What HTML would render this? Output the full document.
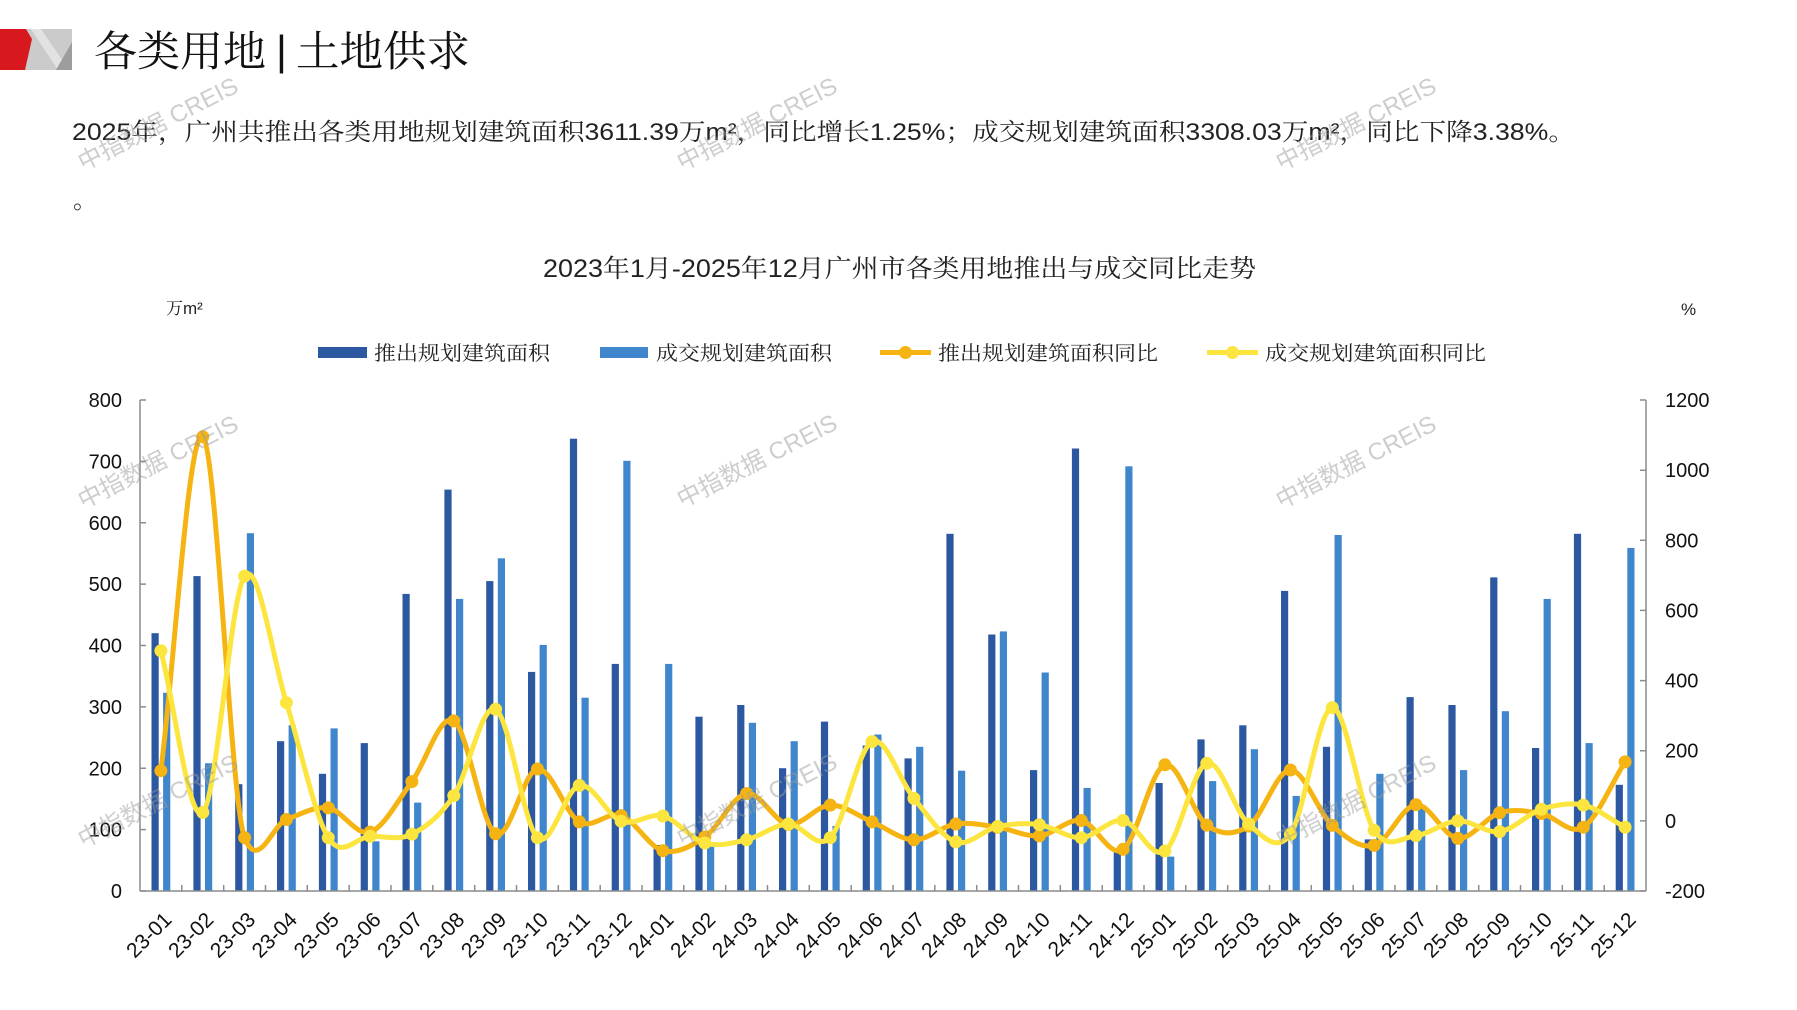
<!DOCTYPE html>
<html>
<head>
<meta charset="utf-8">
<style>
html,body{margin:0;padding:0;background:#fff;}
svg{display:block;}
.cjk{font-family:"Noto Serif CJK SC","Liberation Serif",serif;}
.cjk2{font-family:"Liberation Sans","Noto Serif CJK SC",serif;}
.num{font-family:"Liberation Sans",sans-serif;}
</style>
</head>
<body>
<svg width="1797" height="1010" viewBox="0 0 1797 1010" xmlns="http://www.w3.org/2000/svg">
<rect width="1797" height="1010" fill="#fff"/>

<!-- logo -->
<rect x="25" y="29" width="47" height="41" fill="#cbcbcb"/>
<polygon points="31,29 41,29 69,70 58,70" fill="#e2e2e2"/>
<polygon points="72,42 72,70 56,70" fill="#9d9d9d"/>
<polygon points="0,29 26,29 32,39 25,70 0,70" fill="#d7191f"/>

<!-- main title -->
<text x="94" y="66" font-size="42" class="cjk" fill="#111" textLength="172" lengthAdjust="spacingAndGlyphs">各类用地</text>
<text x="281.5" y="65" font-size="42" text-anchor="middle" class="num" fill="#111">|</text>
<text x="296" y="66" font-size="42" class="cjk" fill="#111" textLength="174" lengthAdjust="spacingAndGlyphs">土地供求</text>

<!-- paragraph -->
<text x="72" y="140" font-size="24" fill="#222" textLength="1503" lengthAdjust="spacingAndGlyphs" style="font-family:'Liberation Sans Narrow','Liberation Sans','Noto Serif CJK SC',serif;">2025年，广州共推出各类用地规划建筑面积3611.39万m²，同比增长1.25%；成交规划建筑面积3308.03万m²，同比下降3.38%。</text>
<text x="73" y="208" font-size="24" class="cjk" fill="#222">。</text>

<!-- chart title -->
<text x="543" y="277" font-size="25" fill="#222" textLength="713" lengthAdjust="spacingAndGlyphs" style="font-family:'Liberation Sans Narrow','Liberation Sans','Noto Serif CJK SC',serif;">2023年1月-2025年12月广州市各类用地推出与成交同比走势</text>

<!-- units -->
<text x="166" y="314" font-size="17" class="cjk2" fill="#222">万m²</text>
<text x="1681" y="315" font-size="17" class="num" fill="#222">%</text>

<!-- legend -->
<rect x="318" y="347" width="49" height="11" fill="#2c58a2"/>
<text x="374" y="360" font-size="20" class="cjk" fill="#222" textLength="176" lengthAdjust="spacingAndGlyphs">推出规划建筑面积</text>
<rect x="600" y="347" width="48" height="11" fill="#3f86cd"/>
<text x="656" y="360" font-size="20" class="cjk" fill="#222" textLength="176" lengthAdjust="spacingAndGlyphs">成交规划建筑面积</text>
<line x1="880" y1="352.5" x2="931" y2="352.5" stroke="#f6b412" stroke-width="5"/>
<circle cx="905.5" cy="352.5" r="6.5" fill="#f6b412"/>
<text x="938" y="360" font-size="20" class="cjk" fill="#222" textLength="220" lengthAdjust="spacingAndGlyphs">推出规划建筑面积同比</text>
<line x1="1207" y1="352.5" x2="1258" y2="352.5" stroke="#fde53f" stroke-width="5"/>
<circle cx="1232.5" cy="352.5" r="6.5" fill="#fde53f"/>
<text x="1265" y="360" font-size="20" class="cjk" fill="#222" textLength="221" lengthAdjust="spacingAndGlyphs">成交规划建筑面积同比</text>

<!-- bars dark -->
<g fill="#2c58a2">
<rect x="151.5" y="633.2" width="7.2" height="257.8"/>
<rect x="193.4" y="576.1" width="7.2" height="314.9"/>
<rect x="235.2" y="784.2" width="7.2" height="106.8"/>
<rect x="277.0" y="741.2" width="7.2" height="149.8"/>
<rect x="318.9" y="773.8" width="7.2" height="117.2"/>
<rect x="360.7" y="743.1" width="7.2" height="147.9"/>
<rect x="402.5" y="593.9" width="7.2" height="297.1"/>
<rect x="444.4" y="489.6" width="7.2" height="401.4"/>
<rect x="486.2" y="581.1" width="7.2" height="309.9"/>
<rect x="528.0" y="671.9" width="7.2" height="219.1"/>
<rect x="569.9" y="438.7" width="7.2" height="452.3"/>
<rect x="611.7" y="663.9" width="7.2" height="227.1"/>
<rect x="653.5" y="845.0" width="7.2" height="46.0"/>
<rect x="695.4" y="716.7" width="7.2" height="174.3"/>
<rect x="737.2" y="705.0" width="7.2" height="186.0"/>
<rect x="779.0" y="768.2" width="7.2" height="122.8"/>
<rect x="820.9" y="721.6" width="7.2" height="169.4"/>
<rect x="862.7" y="745.5" width="7.2" height="145.5"/>
<rect x="904.5" y="758.4" width="7.2" height="132.6"/>
<rect x="946.4" y="533.8" width="7.2" height="357.2"/>
<rect x="988.2" y="634.5" width="7.2" height="256.5"/>
<rect x="1030.0" y="770.1" width="7.2" height="120.9"/>
<rect x="1071.9" y="448.5" width="7.2" height="442.5"/>
<rect x="1113.7" y="851.1" width="7.2" height="39.9"/>
<rect x="1155.5" y="783.0" width="7.2" height="108.0"/>
<rect x="1197.4" y="739.4" width="7.2" height="151.6"/>
<rect x="1239.2" y="725.3" width="7.2" height="165.7"/>
<rect x="1281.0" y="590.9" width="7.2" height="300.1"/>
<rect x="1322.9" y="746.8" width="7.2" height="144.2"/>
<rect x="1364.7" y="839.4" width="7.2" height="51.6"/>
<rect x="1406.5" y="697.1" width="7.2" height="193.9"/>
<rect x="1448.4" y="705.0" width="7.2" height="186.0"/>
<rect x="1490.2" y="577.4" width="7.2" height="313.6"/>
<rect x="1532.0" y="748.0" width="7.2" height="143.0"/>
<rect x="1573.9" y="533.8" width="7.2" height="357.2"/>
<rect x="1615.7" y="784.8" width="7.2" height="106.2"/>
</g>
<!-- bars light -->
<g fill="#3f86cd">
<rect x="163.1" y="692.8" width="7.2" height="198.2"/>
<rect x="205.0" y="763.3" width="7.2" height="127.7"/>
<rect x="246.8" y="533.2" width="7.2" height="357.8"/>
<rect x="288.6" y="725.3" width="7.2" height="165.7"/>
<rect x="330.5" y="728.4" width="7.2" height="162.6"/>
<rect x="372.3" y="841.3" width="7.2" height="49.7"/>
<rect x="414.1" y="802.6" width="7.2" height="88.4"/>
<rect x="456.0" y="598.9" width="7.2" height="292.1"/>
<rect x="497.8" y="558.3" width="7.2" height="332.7"/>
<rect x="539.6" y="644.9" width="7.2" height="246.1"/>
<rect x="581.5" y="697.7" width="7.2" height="193.3"/>
<rect x="623.3" y="460.8" width="7.2" height="430.2"/>
<rect x="665.1" y="663.9" width="7.2" height="227.1"/>
<rect x="707.0" y="845.0" width="7.2" height="46.0"/>
<rect x="748.8" y="722.8" width="7.2" height="168.2"/>
<rect x="790.6" y="741.2" width="7.2" height="149.8"/>
<rect x="832.5" y="825.9" width="7.2" height="65.1"/>
<rect x="874.3" y="734.5" width="7.2" height="156.5"/>
<rect x="916.1" y="746.8" width="7.2" height="144.2"/>
<rect x="958.0" y="770.7" width="7.2" height="120.3"/>
<rect x="999.8" y="631.4" width="7.2" height="259.6"/>
<rect x="1041.6" y="672.5" width="7.2" height="218.5"/>
<rect x="1083.5" y="787.9" width="7.2" height="103.1"/>
<rect x="1125.3" y="466.3" width="7.2" height="424.7"/>
<rect x="1167.1" y="856.6" width="7.2" height="34.4"/>
<rect x="1209.0" y="781.1" width="7.2" height="109.9"/>
<rect x="1250.8" y="749.2" width="7.2" height="141.8"/>
<rect x="1292.6" y="795.9" width="7.2" height="95.1"/>
<rect x="1334.5" y="535.0" width="7.2" height="356.0"/>
<rect x="1376.3" y="773.8" width="7.2" height="117.2"/>
<rect x="1418.1" y="805.1" width="7.2" height="85.9"/>
<rect x="1460.0" y="770.1" width="7.2" height="120.9"/>
<rect x="1501.8" y="711.2" width="7.2" height="179.8"/>
<rect x="1543.6" y="598.9" width="7.2" height="292.1"/>
<rect x="1585.5" y="743.1" width="7.2" height="147.9"/>
<rect x="1627.3" y="547.9" width="7.2" height="343.1"/>
</g>

<!-- axes -->
<g stroke="#8c8c8c" stroke-width="1.5" fill="none">
<line x1="140" y1="400" x2="140" y2="891"/>
<line x1="1646" y1="400" x2="1646" y2="891"/>
<line x1="140" y1="891" x2="1646" y2="891"/>
<path d="M140 400h6M140 461.4h6M140 522.8h6M140 584.1h6M140 645.5h6M140 706.9h6M140 768.3h6M140 829.6h6M140 891h6"/>
<path d="M1646 400h-6M1646 470.2h-6M1646 540.3h-6M1646 610.4h-6M1646 680.6h-6M1646 750.7h-6M1646 820.9h-6M1646 891h-6"/>
<path d="M181.8 891v-6M223.7 891v-6M265.5 891v-6M307.3 891v-6M349.2 891v-6M391.0 891v-6M432.8 891v-6M474.7 891v-6M516.5 891v-6M558.3 891v-6M600.2 891v-6M642.0 891v-6M683.8 891v-6M725.7 891v-6M767.5 891v-6M809.3 891v-6M851.2 891v-6M893.0 891v-6M934.8 891v-6M976.7 891v-6M1018.5 891v-6M1060.3 891v-6M1102.2 891v-6M1144.0 891v-6M1185.8 891v-6M1227.7 891v-6M1269.5 891v-6M1311.3 891v-6M1353.2 891v-6M1395.0 891v-6M1436.8 891v-6M1478.7 891v-6M1520.5 891v-6M1562.3 891v-6M1604.2 891v-6"/>
</g>

<!-- left tick labels -->
<g class="num" font-size="20" fill="#111" text-anchor="end">
<text x="122" y="407">800</text>
<text x="122" y="468.4">700</text>
<text x="122" y="529.8">600</text>
<text x="122" y="591.1">500</text>
<text x="122" y="652.5">400</text>
<text x="122" y="713.9">300</text>
<text x="122" y="775.3">200</text>
<text x="122" y="836.6">100</text>
<text x="122" y="898">0</text>
</g>
<!-- right tick labels -->
<g class="num" font-size="20" fill="#111">
<text x="1665" y="407">1200</text>
<text x="1665" y="477.2">1000</text>
<text x="1665" y="547.3">800</text>
<text x="1665" y="617.4">600</text>
<text x="1665" y="687.6">400</text>
<text x="1665" y="757.7">200</text>
<text x="1665" y="827.9">0</text>
<text x="1665" y="898">-200</text>
</g>

<!-- orange line -->
<path fill="none" stroke="#f6b412" stroke-width="5" stroke-linejoin="round" stroke-linecap="round" d="M160.9,770.7 C174.8,659.4 188.9,425.6 202.8,436.8 S230.7,802.7 244.6,837.7 S272.5,824.5 286.4,819.5 S314.4,805.8 328.3,807.9 S356.2,836.5 370.1,832.1 S398.0,800.1 411.9,781.6 S439.9,712.2 453.8,720.9 S481.7,825.8 495.6,833.8 S523.5,771.0 537.4,769.0 S565.4,814.1 579.3,821.9 S607.2,810.8 621.1,815.6 S649.0,847.1 662.9,850.7 S690.9,846.5 704.8,837.0 S732.7,795.6 746.6,793.5 S774.5,822.5 788.4,824.4 S816.4,805.5 830.3,805.1 S858.2,816.1 872.1,821.9 S900.0,839.5 913.9,839.8 S941.9,826.1 955.8,824.0 S983.7,825.2 997.6,827.2 S1025.5,837.0 1039.4,835.9 S1067.4,818.3 1081.3,820.5 S1109.2,858.6 1123.1,849.3 S1151.0,768.8 1164.9,764.8 S1192.9,814.9 1206.8,825.1 S1234.7,835.3 1248.6,826.1 S1276.5,770.1 1290.4,770.0 S1318.4,812.8 1332.3,825.4 S1360.2,848.9 1374.1,845.4 S1402.0,805.9 1415.9,804.7 S1443.9,837.1 1457.8,838.4 S1485.7,817.0 1499.6,812.8 S1527.5,811.1 1541.4,813.5 S1569.4,835.8 1583.3,827.2 S1611.2,783.7 1625.1,761.9"/>
<g fill="#f6b412">
<circle cx="160.9" cy="770.7" r="6.5"/><circle cx="202.8" cy="436.8" r="6.5"/><circle cx="244.6" cy="837.7" r="6.5"/><circle cx="286.4" cy="819.5" r="6.5"/><circle cx="328.3" cy="807.9" r="6.5"/><circle cx="370.1" cy="832.1" r="6.5"/><circle cx="411.9" cy="781.6" r="6.5"/><circle cx="453.8" cy="720.9" r="6.5"/><circle cx="495.6" cy="833.8" r="6.5"/><circle cx="537.4" cy="769.0" r="6.5"/><circle cx="579.3" cy="821.9" r="6.5"/><circle cx="621.1" cy="815.6" r="6.5"/><circle cx="662.9" cy="850.7" r="6.5"/><circle cx="704.8" cy="837.0" r="6.5"/><circle cx="746.6" cy="793.5" r="6.5"/><circle cx="788.4" cy="824.4" r="6.5"/><circle cx="830.3" cy="805.1" r="6.5"/><circle cx="872.1" cy="821.9" r="6.5"/><circle cx="913.9" cy="839.8" r="6.5"/><circle cx="955.8" cy="824.0" r="6.5"/><circle cx="997.6" cy="827.2" r="6.5"/><circle cx="1039.4" cy="835.9" r="6.5"/><circle cx="1081.3" cy="820.5" r="6.5"/><circle cx="1123.1" cy="849.3" r="6.5"/><circle cx="1164.9" cy="764.8" r="6.5"/><circle cx="1206.8" cy="825.1" r="6.5"/><circle cx="1248.6" cy="826.1" r="6.5"/><circle cx="1290.4" cy="770.0" r="6.5"/><circle cx="1332.3" cy="825.4" r="6.5"/><circle cx="1374.1" cy="845.4" r="6.5"/><circle cx="1415.9" cy="804.7" r="6.5"/><circle cx="1457.8" cy="838.4" r="6.5"/><circle cx="1499.6" cy="812.8" r="6.5"/><circle cx="1541.4" cy="813.5" r="6.5"/><circle cx="1583.3" cy="827.2" r="6.5"/><circle cx="1625.1" cy="761.9" r="6.5"/>
</g>

<!-- yellow line -->
<path fill="none" stroke="#fde53f" stroke-width="5" stroke-linejoin="round" stroke-linecap="round" d="M160.9,650.8 C174.8,704.7 188.9,824.9 202.8,812.4 S230.7,594.4 244.6,576.1 S272.5,659.1 286.4,702.7 S314.4,815.4 328.3,837.7 S356.2,836.9 370.1,836.3 S398.0,841.0 411.9,834.2 S439.9,816.4 453.8,795.6 S481.7,702.3 495.6,709.3 S523.5,825.0 537.4,837.7 S565.4,788.2 579.3,785.4 S607.2,816.1 621.1,821.2 S649.0,812.4 662.9,816.0 S690.9,839.0 704.8,843.0 S732.7,843.0 746.6,839.8 S774.5,824.4 788.4,824.0 S816.4,851.4 830.3,837.7 S858.2,748.2 872.1,741.6 S900.0,781.7 913.9,798.4 S941.9,837.2 955.8,841.9 S983.7,829.4 997.6,826.5 S1025.5,822.8 1039.4,824.7 S1067.4,838.4 1081.3,837.7 S1109.2,818.3 1123.1,820.5 S1151.0,860.5 1164.9,851.0 S1192.9,767.8 1206.8,763.3 S1234.7,812.2 1248.6,824.0 S1276.5,853.6 1290.4,834.2 S1318.4,708.3 1332.3,707.6 S1360.2,809.0 1374.1,830.3 S1402.0,837.2 1415.9,835.6 S1443.9,821.6 1457.8,820.9 S1485.7,833.6 1499.6,831.7 S1527.5,813.7 1541.4,809.3 S1569.4,802.1 1583.3,805.1 S1611.2,819.8 1625.1,827.2"/>
<g fill="#fde53f">
<circle cx="160.9" cy="650.8" r="6.5"/><circle cx="202.8" cy="812.4" r="6.5"/><circle cx="244.6" cy="576.1" r="6.5"/><circle cx="286.4" cy="702.7" r="6.5"/><circle cx="328.3" cy="837.7" r="6.5"/><circle cx="370.1" cy="836.3" r="6.5"/><circle cx="411.9" cy="834.2" r="6.5"/><circle cx="453.8" cy="795.6" r="6.5"/><circle cx="495.6" cy="709.3" r="6.5"/><circle cx="537.4" cy="837.7" r="6.5"/><circle cx="579.3" cy="785.4" r="6.5"/><circle cx="621.1" cy="821.2" r="6.5"/><circle cx="662.9" cy="816.0" r="6.5"/><circle cx="704.8" cy="843.0" r="6.5"/><circle cx="746.6" cy="839.8" r="6.5"/><circle cx="788.4" cy="824.0" r="6.5"/><circle cx="830.3" cy="837.7" r="6.5"/><circle cx="872.1" cy="741.6" r="6.5"/><circle cx="913.9" cy="798.4" r="6.5"/><circle cx="955.8" cy="841.9" r="6.5"/><circle cx="997.6" cy="826.5" r="6.5"/><circle cx="1039.4" cy="824.7" r="6.5"/><circle cx="1081.3" cy="837.7" r="6.5"/><circle cx="1123.1" cy="820.5" r="6.5"/><circle cx="1164.9" cy="851.0" r="6.5"/><circle cx="1206.8" cy="763.3" r="6.5"/><circle cx="1248.6" cy="824.0" r="6.5"/><circle cx="1290.4" cy="834.2" r="6.5"/><circle cx="1332.3" cy="707.6" r="6.5"/><circle cx="1374.1" cy="830.3" r="6.5"/><circle cx="1415.9" cy="835.6" r="6.5"/><circle cx="1457.8" cy="820.9" r="6.5"/><circle cx="1499.6" cy="831.7" r="6.5"/><circle cx="1541.4" cy="809.3" r="6.5"/><circle cx="1583.3" cy="805.1" r="6.5"/><circle cx="1625.1" cy="827.2" r="6.5"/>
</g>

<!-- x labels -->
<g class="num" font-size="21" fill="#111" text-anchor="end">
<text x="172.9" y="921" transform="rotate(-45 172.9 921)">23-01</text>
<text x="214.8" y="921" transform="rotate(-45 214.8 921)">23-02</text>
<text x="256.6" y="921" transform="rotate(-45 256.6 921)">23-03</text>
<text x="298.4" y="921" transform="rotate(-45 298.4 921)">23-04</text>
<text x="340.3" y="921" transform="rotate(-45 340.3 921)">23-05</text>
<text x="382.1" y="921" transform="rotate(-45 382.1 921)">23-06</text>
<text x="423.9" y="921" transform="rotate(-45 423.9 921)">23-07</text>
<text x="465.8" y="921" transform="rotate(-45 465.8 921)">23-08</text>
<text x="507.6" y="921" transform="rotate(-45 507.6 921)">23-09</text>
<text x="549.4" y="921" transform="rotate(-45 549.4 921)">23-10</text>
<text x="591.3" y="921" transform="rotate(-45 591.3 921)">23-11</text>
<text x="633.1" y="921" transform="rotate(-45 633.1 921)">23-12</text>
<text x="674.9" y="921" transform="rotate(-45 674.9 921)">24-01</text>
<text x="716.8" y="921" transform="rotate(-45 716.8 921)">24-02</text>
<text x="758.6" y="921" transform="rotate(-45 758.6 921)">24-03</text>
<text x="800.4" y="921" transform="rotate(-45 800.4 921)">24-04</text>
<text x="842.3" y="921" transform="rotate(-45 842.3 921)">24-05</text>
<text x="884.1" y="921" transform="rotate(-45 884.1 921)">24-06</text>
<text x="925.9" y="921" transform="rotate(-45 925.9 921)">24-07</text>
<text x="967.8" y="921" transform="rotate(-45 967.8 921)">24-08</text>
<text x="1009.6" y="921" transform="rotate(-45 1009.6 921)">24-09</text>
<text x="1051.4" y="921" transform="rotate(-45 1051.4 921)">24-10</text>
<text x="1093.3" y="921" transform="rotate(-45 1093.3 921)">24-11</text>
<text x="1135.1" y="921" transform="rotate(-45 1135.1 921)">24-12</text>
<text x="1176.9" y="921" transform="rotate(-45 1176.9 921)">25-01</text>
<text x="1218.8" y="921" transform="rotate(-45 1218.8 921)">25-02</text>
<text x="1260.6" y="921" transform="rotate(-45 1260.6 921)">25-03</text>
<text x="1302.4" y="921" transform="rotate(-45 1302.4 921)">25-04</text>
<text x="1344.3" y="921" transform="rotate(-45 1344.3 921)">25-05</text>
<text x="1386.1" y="921" transform="rotate(-45 1386.1 921)">25-06</text>
<text x="1427.9" y="921" transform="rotate(-45 1427.9 921)">25-07</text>
<text x="1469.8" y="921" transform="rotate(-45 1469.8 921)">25-08</text>
<text x="1511.6" y="921" transform="rotate(-45 1511.6 921)">25-09</text>
<text x="1553.4" y="921" transform="rotate(-45 1553.4 921)">25-10</text>
<text x="1595.3" y="921" transform="rotate(-45 1595.3 921)">25-11</text>
<text x="1637.1" y="921" transform="rotate(-45 1637.1 921)">25-12</text>
</g>

<!-- watermarks -->
<g font-size="24" fill="#9a9a9a" opacity="0.5" text-anchor="middle" style="font-family:'Liberation Sans','Noto Sans CJK SC',sans-serif;">
<text x="158" y="132" transform="rotate(-27 158 124)">中指数据 CREIS</text>
<text x="757" y="132" transform="rotate(-27 757 124)">中指数据 CREIS</text>
<text x="1356" y="132" transform="rotate(-27 1356 124)">中指数据 CREIS</text>
<text x="158" y="470" transform="rotate(-27 158 462)">中指数据 CREIS</text>
<text x="757" y="469" transform="rotate(-27 757 461)">中指数据 CREIS</text>
<text x="1356" y="470" transform="rotate(-27 1356 462)">中指数据 CREIS</text>
<text x="158" y="809" transform="rotate(-27 158 801)">中指数据 CREIS</text>
<text x="757" y="808" transform="rotate(-27 757 800)">中指数据 CREIS</text>
<text x="1356" y="809" transform="rotate(-27 1356 801)">中指数据 CREIS</text>
</g>
</svg>
</body>
</html>
